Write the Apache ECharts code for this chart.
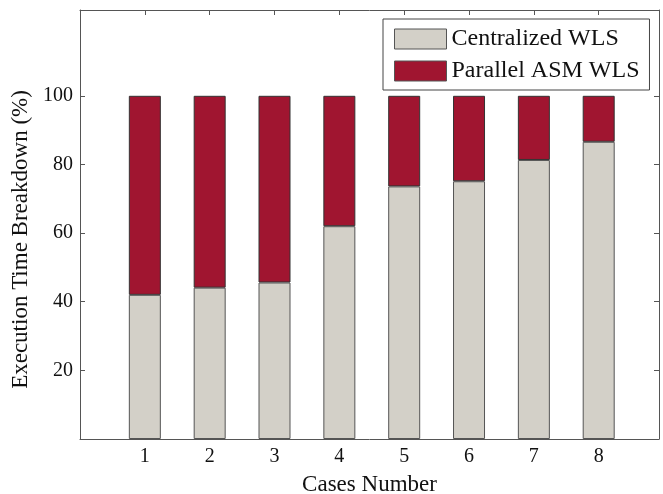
<!DOCTYPE html>
<html><head><meta charset="utf-8">
<script src="https://cdn.jsdelivr.net/npm/echarts@6/dist/echarts.min.js"></script>
<style>html,body{margin:0;padding:0;background:#fff}#c{width:663px;height:494px}</style>
</head><body><div id="c"></div>
<script>
const cases = [1, 2, 3, 4, 5, 6, 7, 8];
const centralizedWLS = [42.0, 44.1, 45.6, 62.0, 73.6, 75.1, 81.3, 86.6];
const parallelASMWLS = [58.0, 55.9, 54.4, 38.0, 26.4, 24.9, 18.7, 13.4];
const yTicks = [20, 40, 60, 80, 100];
const seriesNames = ['Centralized WLS', 'Parallel ASM WLS'];

const FONT = '"Liberation Serif", "DejaVu Serif", serif';
const axisColor = '#555';
const X_MAX = 8.93;
const plot = {left: 80, top: 10, width: 579, height: 429};
const unit = plot.width / X_MAX;
const chart = echarts.init(document.getElementById('c'), null, {renderer: 'canvas'});
const tickStyle = {show: true, inside: true, length: 5, lineStyle: {color: axisColor, width: 1}};
const line = {show: true, onZero: false, lineStyle: {color: axisColor, width: 1}};
chart.setOption({
  animation: false,
  backgroundColor: '#fff',
  grid: [
    Object.assign({containLabel: false, outerBoundsMode: 'none'}, plot),
    {left: plot.left + unit * (cases[0] - 0.5), top: plot.top, width: unit * cases.length, height: plot.height, containLabel: false, outerBoundsMode: 'none'}
  ],
  legend: {
    left: 383, top: 19, orient: 'vertical',
    padding: [8, 10, 7, 11], itemGap: 8,
    itemWidth: 52, itemHeight: 20, icon: 'rect',
    backgroundColor: '#fff', borderColor: '#444', borderWidth: 1,
    textStyle: {fontFamily: FONT, fontSize: 24, color: '#111'},
    itemStyle: {borderColor: '#555', borderWidth: 1},
    data: seriesNames
  },
  xAxis: [{
    gridIndex: 0, type: 'value', min: 0, max: X_MAX, position: 'bottom',
    name: 'Cases Number', nameLocation: 'middle', nameGap: 34,
    nameTextStyle: {fontFamily: FONT, fontSize: 23, color: '#111'},
    axisLine: line,
    axisTick: Object.assign({customValues: cases}, tickStyle),
    axisLabel: {customValues: cases, fontFamily: FONT, fontSize: 20, color: '#111', margin: 8},
    splitLine: {show: false}
  }, {
    gridIndex: 0, type: 'value', min: 0, max: X_MAX, position: 'top',
    axisLine: line,
    axisTick: Object.assign({customValues: cases}, tickStyle),
    axisLabel: {show: false}, splitLine: {show: false}
  }, {
    gridIndex: 1, type: 'category', data: cases, boundaryGap: true,
    axisLine: {show: false}, axisTick: {show: false}, axisLabel: {show: false}, splitLine: {show: false}
  }],
  yAxis: [{
    gridIndex: 0, type: 'value', min: 0, max: 125, position: 'left',
    name: 'Execution Time Breakdown (%)', nameLocation: 'middle', nameGap: 48,
    nameTextStyle: {fontFamily: FONT, fontSize: 23, color: '#111', padding: [0, 30, 0, 0]},
    axisLine: line,
    axisTick: Object.assign({customValues: yTicks}, tickStyle),
    axisLabel: {customValues: yTicks, fontFamily: FONT, fontSize: 20, color: '#111', margin: 7},
    splitLine: {show: false}
  }, {
    gridIndex: 0, type: 'value', min: 0, max: 125, position: 'right',
    axisLine: line,
    axisTick: Object.assign({customValues: yTicks}, tickStyle),
    axisLabel: {show: false}, splitLine: {show: false}
  }, {
    gridIndex: 1, type: 'value', min: 0, max: 125,
    axisLine: {show: false}, axisTick: {show: false}, axisLabel: {show: false}, splitLine: {show: false}
  }],
  series: [{
    name: seriesNames[0], type: 'bar', stack: 'total', barWidth: 32,
    xAxisIndex: 2, yAxisIndex: 2,
    itemStyle: {color: '#d3d0c8', borderColor: '#555', borderWidth: 1},
    data: centralizedWLS
  }, {
    name: seriesNames[1], type: 'bar', stack: 'total', barWidth: 32,
    xAxisIndex: 2, yAxisIndex: 2,
    itemStyle: {color: '#a01530', borderColor: '#333', borderWidth: 1},
    data: parallelASMWLS
  }]
});
</script></body></html>
